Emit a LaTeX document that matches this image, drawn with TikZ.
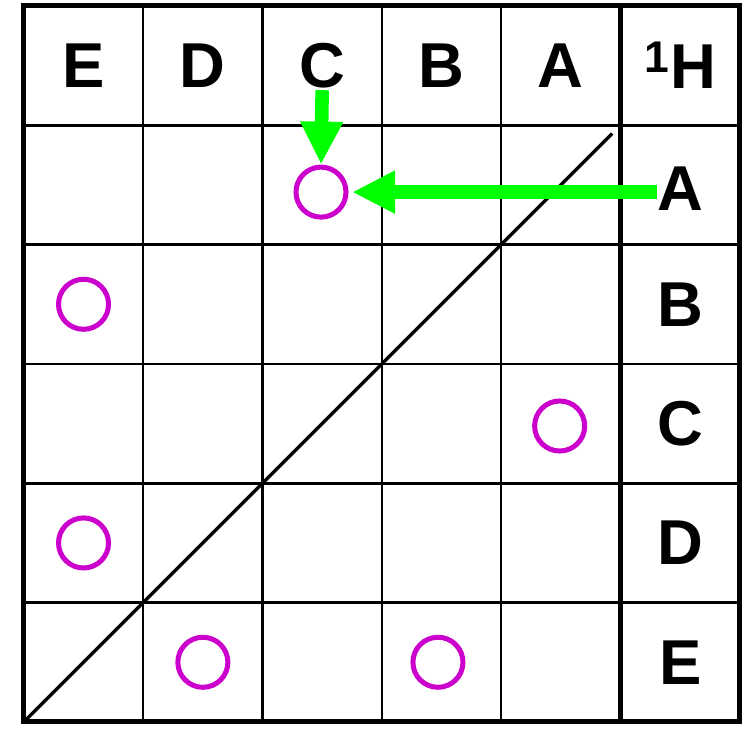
\documentclass[tikz,border=0pt]{standalone}
\usepackage{fontspec}
\setmainfont{Liberation Sans}
\usetikzlibrary{arrows.meta}
\definecolor{peakmag}{HTML}{CC00CC}
\definecolor{hintgreen}{HTML}{00FF00}

\begin{document}
\begin{tikzpicture}[x=2.38cm, y=2.38cm,
    lab/.style={font=\fontsize{36}{40}\selectfont\bfseries, inner sep=0pt},
    peak/.style={circle, draw=peakmag, line width=2.84pt, minimum size=28.4pt, inner sep=0pt},
    hint/.style={draw=hintgreen, line width=7.7pt, -{Triangle[width=22.7pt,length=24.4pt]}}]
            \useasboundingbox (-0.2,-0.185) rectangle (6.085,6.05);

            \draw[line width=1.4pt, step=2.38cm] (0,0) grid (6,6);
            \draw[line width=2pt] (0,5) -- (6,5);
            \draw[line width=2.8pt] (5,0) -- (5,6);
            \draw[line width=2.8pt] (0,0) rectangle (6,6);
            \draw[line width=1.9pt] (0,0) -- (4.93,4.93);

            \node[lab] (hE) at (0.5,5.5) {E}; \node[lab] (hD) at (1.5,5.5) {D};
            \node[lab] (hC) at (2.5,5.5) {C}; \node[lab] (hB) at (3.5,5.5) {B};
            \node[lab] (hA) at (4.5,5.5) {A}; \node[lab] (hH) at (5.5,5.5) {\textsuperscript{1}H};
            \node[lab] (rA) at (5.5,4.47) {A}; \node[lab] (rB) at (5.5,3.5) {B};
            \node[lab] (rC) at (5.5,2.5) {C}; \node[lab] (rD) at (5.5,1.5) {D};
            \node[lab] (rE) at (5.5,0.5) {E};

            \node[peak] (pCA) at (2.49,4.44) {};
            \node[peak] (pEB) at (0.5,3.5) {};
            \node[peak] (pAC) at (4.49,2.48) {};
            \node[peak] (pED) at (0.5,1.5) {};
            \node[peak] (pDE) at (1.5,0.5) {};
            \node[peak] (pBE) at (3.47,0.5) {};

            \draw[hint, shorten <=1pt] (hC.south) -- (pCA.north);
            \draw[hint, shorten >=2pt] (rA.west |- pCA) -- (pCA.east);
        \end{tikzpicture}
\end{document}
